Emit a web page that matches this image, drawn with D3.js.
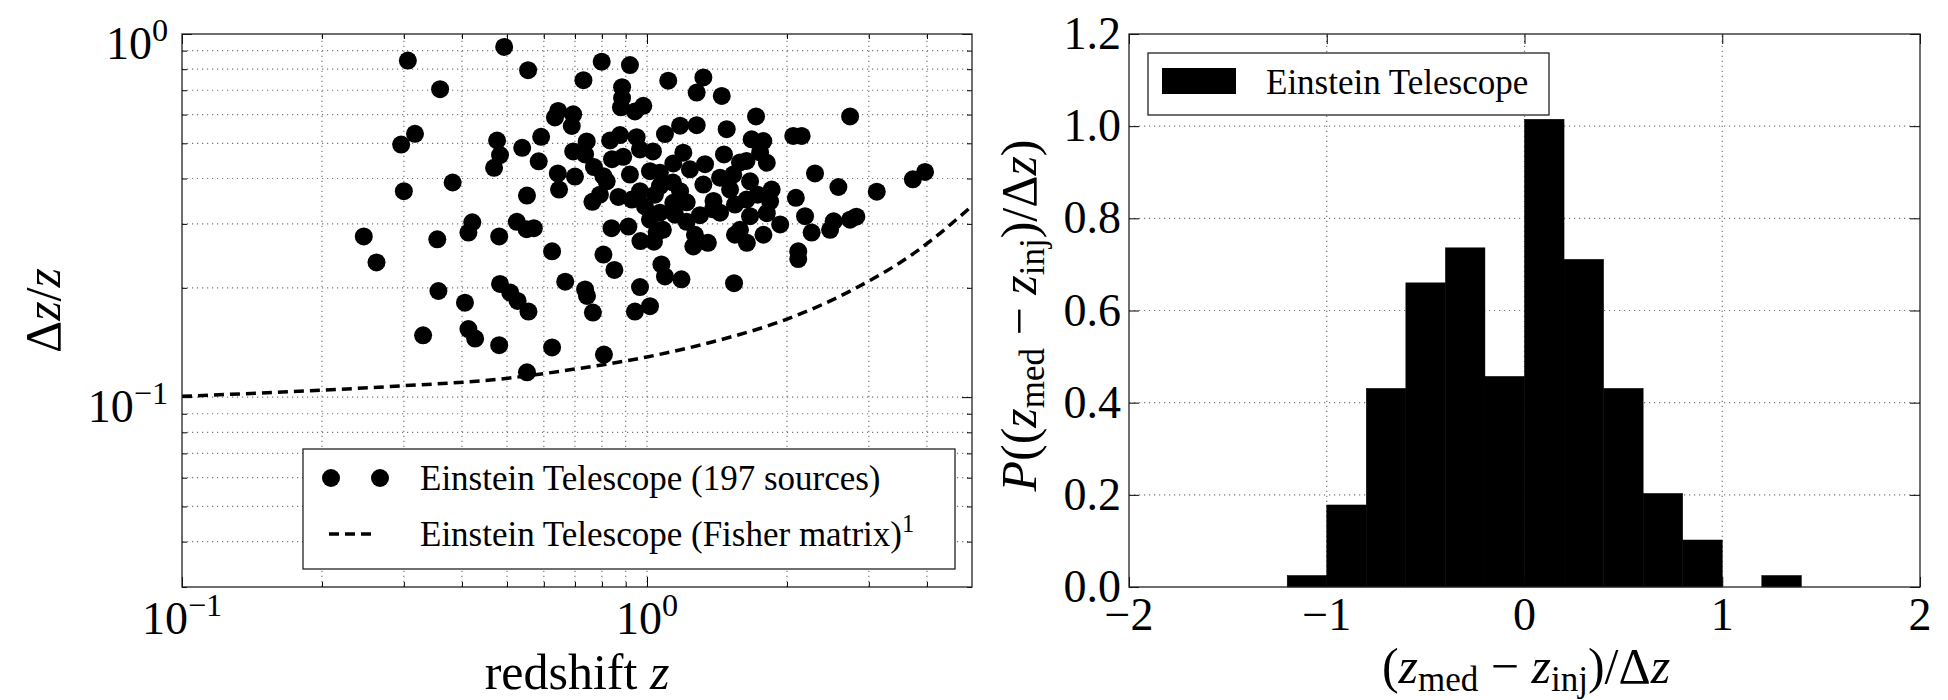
<!DOCTYPE html>
<html>
<head>
<meta charset="utf-8">
<script src="https://cdn.jsdelivr.net/npm/d3@7"></script>
<style>
  body { margin: 0; background: #fff; }
  svg text { font-family: "Liberation Serif", "DejaVu Serif", serif; fill: #000; }
</style>
</head>
<body>
<svg id="chart" width="1948" height="700" font-family="Liberation Serif, DejaVu Serif, serif"></svg>
<script>
// ---- data ----
// left panel: fractional redshift error per source
const redshift = [
  0.493,0.306,0.555,0.359,0.317,0.296,0.476,0.483,0.469,0.539,
  0.592,0.585,0.382,0.300,0.552,0.246,0.262,0.354,0.421,0.413,
  0.481,0.525,0.551,0.571,0.356,0.406,0.483,0.508,0.527,0.556,
  0.330,0.413,0.427,0.481,0.552,0.625,0.808,0.625,0.667,0.736,
  0.743,0.765,0.806,0.851,0.839,0.912,0.966,0.942,1.015,0.968,
  1.035,1.082,1.074,1.093,1.186,1.258,1.352,1.539,1.546,2.115,
  2.115,2.187,2.26,2.476,2.52,2.734,2.82,1.78,1.64,1.81,
  1.666,1.585,1.066,1.217,1.300,1.436,1.387,0.799,0.919,0.730,
  1.111,1.322,1.279,1.448,0.884,0.884,0.879,0.982,0.942,0.644,
  0.634,0.694,0.689,0.742,0.694,0.833,0.875,0.950,1.093,1.178,
  1.279,1.484,1.030,1.197,1.139,1.464,0.643,0.700,0.769,0.889,
  0.819,0.919,1.015,0.966,0.647,0.763,0.868,1.066,1.178,1.322,
  1.436,1.533,1.39,1.139,1.716,2.734,1.679,1.779,2.063,2.151,
  1.637,1.81,1.666,1.854,2.298,2.58,2.09,3.12,3.73,3.963,
  0.806,0.990,1.137,1.637,1.585,1.217,1.015,1.049,1.84,1.751,1.066,
  0.792,0.928,1.040,1.237,1.333,1.509,1.268,1.149,1.934,1.546,1.73,0.841,0.966,0.736
];
const dzOverZ = [
  0.921,0.845,0.795,0.705,0.531,0.496,0.509,0.464,0.428,0.486,
  0.521,0.446,0.390,0.369,0.359,0.277,0.235,0.272,0.303,0.284,
  0.277,0.304,0.290,0.292,0.196,0.182,0.205,0.194,0.184,0.172,
  0.148,0.154,0.145,0.139,0.117,0.137,0.131,0.252,0.208,0.198,
  0.190,0.171,0.247,0.224,0.292,0.295,0.201,0.172,0.178,0.269,
  0.268,0.289,0.232,0.215,0.211,0.260,0.266,0.206,0.280,0.252,
  0.240,0.315,0.284,0.289,0.305,0.308,0.314,0.280,0.266,0.321,
  0.315,0.289,0.322,0.304,0.317,0.322,0.329,0.839,0.821,0.746,
  0.744,0.759,0.690,0.675,0.714,0.666,0.628,0.634,0.612,0.614,
  0.589,0.601,0.558,0.506,0.475,0.509,0.527,0.520,0.530,0.559,
  0.561,0.547,0.475,0.471,0.440,0.466,0.413,0.405,0.430,0.459,
  0.393,0.410,0.419,0.369,0.373,0.345,0.356,0.381,0.369,0.385,
  0.402,0.410,0.347,0.343,0.593,0.593,0.513,0.507,0.524,0.524,
  0.447,0.442,0.393,0.373,0.413,0.379,0.354,0.368,0.398,0.417,
  0.406,0.335,0.390,0.350,0.443,0.344,0.308,0.284,0.346,0.472,0.415,
  0.361,0.350,0.361,0.424,0.438,0.373,0.280,0.318,0.299,0.339,0.361,0.452,0.481,0.466
];
// Fisher matrix curve
const fisherZ  = [0.1, 0.2, 0.3, 0.48, 0.7, 1.0, 1.4, 2.0, 2.8, 3.8, 5.0];
const fisherDz = [0.1005, 0.1045, 0.1075, 0.112, 0.1195, 0.129, 0.1425, 0.164, 0.199, 0.252, 0.336];

// right panel: normalised histogram
const binEdges = [-1.2, -1.0, -0.8, -0.6, -0.4, -0.2, 0.0, 0.2, 0.4, 0.6, 0.8, 1.0, 1.2, 1.4];
const density  = [0.025, 0.178, 0.431, 0.66, 0.736, 0.457, 1.015, 0.711, 0.431, 0.203, 0.102, 0, 0.025];

// ticks
const logMajorX = [0.1, 1];
const logMinorX = [0.2,0.3,0.4,0.5,0.6,0.7,0.8,0.9,2,3,4];
const logMajorY = [0.1, 1];
const logMinorY = [0.03,0.04,0.05,0.06,0.07,0.08,0.09,0.2,0.3,0.4,0.5,0.6,0.7,0.8,0.9];
const histXTicks = [-2, -1, 0, 1, 2];
const histYTicks = [0, 0.2, 0.4, 0.6, 0.8, 1.0, 1.2];

/////////////////////////////////////////////////////
const svg = d3.select("#chart");
const plotTop = 34, plotBot = 587;
const tickFs = 46, labelFs = 50, legendFs = 35;

// write text with italic / sub / superscript pieces
function rich(sel, parts, size) {
  let shift = 0;
  parts.forEach(p => {
    const target = p.sub ? size * 0.16 : p.sup ? -size * 0.4 : 0;
    const ts = sel.append("tspan").text(p.t).attr("dy", target - shift);
    if (p.sub || p.sup) ts.attr("font-size", size * 0.7);
    if (p.it) ts.attr("font-style", "italic");
    shift = target;
  });
  return sel;
}

// inward ticks on all four sides + frame
function frameTicks(g, x, y, xMajor, xMinor, yMajor, yMinor, x0, x1, y0, y1) {
  const mk = (axis, vals, size, tr) => g.append("g").attr("transform", tr)
    .call(axis.tickValues(vals).tickSize(size).tickFormat(""))
    .call(s => s.select(".domain").remove())
    .call(s => s.selectAll("line").attr("stroke", "#000").attr("stroke-width", 1));
  mk(d3.axisBottom(x), xMajor, -10, `translate(0,${y0})`);
  mk(d3.axisBottom(x), xMinor, -5, `translate(0,${y0})`);
  mk(d3.axisTop(x), xMajor, -10, `translate(0,${y1})`);
  mk(d3.axisTop(x), xMinor, -5, `translate(0,${y1})`);
  mk(d3.axisLeft(y), yMajor, -10, `translate(${x0},0)`);
  mk(d3.axisLeft(y), yMinor, -5, `translate(${x0},0)`);
  mk(d3.axisRight(y), yMajor, -10, `translate(${x1},0)`);
  mk(d3.axisRight(y), yMinor, -5, `translate(${x1},0)`);
  g.append("rect").attr("x", x0).attr("y", y1).attr("width", x1 - x0).attr("height", y0 - y1)
    .attr("fill", "none").attr("stroke", "#222").attr("stroke-width", 1.3);
}

// ================= left panel =================
const xL = d3.scaleLog().domain([0.1, 5]).range([182, 972]);
const yL = d3.scaleLog().domain([0.03, 1]).range([plotBot, plotTop]);
const leftG = svg.append("g");

const gridL = leftG.append("g");
gridL.selectAll("line.v").data(logMinorX.concat([1])).join("line").attr("class", "v")
  .attr("x1", d => xL(d)).attr("x2", d => xL(d)).attr("y1", plotBot).attr("y2", plotTop);
gridL.selectAll("line.h").data(logMinorY.filter(d => d > 0.03).concat([0.1])).join("line").attr("class", "h")
  .attr("x1", xL.range()[0]).attr("x2", xL.range()[1]).attr("y1", d => yL(d)).attr("y2", d => yL(d));
gridL.selectAll("line").attr("stroke", "#777").attr("stroke-width", 1.2).attr("stroke-dasharray", "1.2,3.8");

svg.append("clipPath").attr("id", "clipL").append("rect")
  .attr("x", 182).attr("y", plotTop).attr("width", 790).attr("height", plotBot - plotTop);

const points = redshift.map((z, i) => ({z: z, dz: dzOverZ[i]}));
leftG.append("g").attr("clip-path", "url(#clipL)")
  .selectAll("circle").data(points).join("circle")
  .attr("cx", d => xL(d.z)).attr("cy", d => yL(d.dz)).attr("r", 9).attr("fill", "#000");

const fisher = fisherZ.map((z, i) => [z, fisherDz[i]]);
leftG.append("path").attr("clip-path", "url(#clipL)")
  .datum(fisher)
  .attr("d", d3.line().x(d => xL(d[0])).y(d => yL(d[1])).curve(d3.curveMonotoneX))
  .attr("fill", "none").attr("stroke", "#000").attr("stroke-width", 3.5).attr("stroke-dasharray", "10,6");

frameTicks(leftG.append("g"), xL, yL, logMajorX, logMinorX, logMajorY, logMinorY, 182, 972, plotBot, plotTop);

// tick labels (powers of ten)
const expo = d => d === 1 ? "0" : "\u22121";
logMajorX.forEach(v => rich(leftG.append("text").attr("x", xL(v)).attr("y", 634)
  .attr("text-anchor", "middle").attr("font-size", tickFs), [{t: "10"}, {t: expo(v), sup: true}], tickFs));
logMajorY.forEach(v => rich(leftG.append("text").attr("x", 168).attr("y", yL(v) + 25)
  .attr("text-anchor", "end").attr("font-size", tickFs), [{t: "10"}, {t: expo(v), sup: true}], tickFs));

rich(leftG.append("text").attr("x", 577).attr("y", 689).attr("text-anchor", "middle").attr("font-size", labelFs),
  [{t: "redshift "}, {t: "z", it: true}], labelFs);
rich(leftG.append("text").attr("transform", `translate(60,${(plotTop + plotBot) / 2}) rotate(-90)`)
  .attr("text-anchor", "middle").attr("font-size", labelFs),
  [{t: "\u0394"}, {t: "z", it: true}, {t: "/"}, {t: "z", it: true}], labelFs);

// legend
const legL = leftG.append("g");
legL.append("rect").attr("x", 303).attr("y", 449).attr("width", 652).attr("height", 120)
  .attr("fill", "#fff").attr("stroke", "#222").attr("stroke-width", 1.3);
legL.selectAll("circle").data([331, 380]).join("circle")
  .attr("cx", d => d).attr("cy", 478).attr("r", 9).attr("fill", "#000");
legL.append("line").attr("x1", 329).attr("x2", 377).attr("y1", 534).attr("y2", 534)
  .attr("stroke", "#000").attr("stroke-width", 3.5).attr("stroke-dasharray", "10,6");
legL.append("text").attr("x", 420).attr("y", 490).attr("font-size", legendFs)
  .text("Einstein Telescope (197 sources)");
rich(legL.append("text").attr("x", 420).attr("y", 546).attr("font-size", legendFs),
  [{t: "Einstein Telescope (Fisher matrix)"}, {t: "1", sup: true}], legendFs);

// ================= right panel =================
const xR = d3.scaleLinear().domain([-2, 2]).range([1129, 1920]);
const yR = d3.scaleLinear().domain([0, 1.2]).range([plotBot, plotTop]);
const rightG = svg.append("g");

const gridR = rightG.append("g");
gridR.selectAll("line.v").data([-1, 0, 1]).join("line").attr("class", "v")
  .attr("x1", d => xR(d)).attr("x2", d => xR(d)).attr("y1", plotBot).attr("y2", plotTop);
gridR.selectAll("line.h").data([0.2, 0.4, 0.6, 0.8, 1.0]).join("line").attr("class", "h")
  .attr("x1", 1129).attr("x2", 1920).attr("y1", d => yR(d)).attr("y2", d => yR(d));
gridR.selectAll("line").attr("stroke", "#777").attr("stroke-width", 1.2).attr("stroke-dasharray", "1.2,3.8");

const bins = density.map((v, i) => ({x0: binEdges[i], x1: binEdges[i + 1], v: v})).filter(d => d.v > 0);
rightG.append("g").selectAll("rect").data(bins).join("rect")
  .attr("x", d => xR(d.x0)).attr("width", d => xR(d.x1) - xR(d.x0))
  .attr("y", d => yR(d.v)).attr("height", d => yR(0) - yR(d.v))
  .attr("fill", "#000").attr("stroke", "#000").attr("stroke-width", 0.5);

frameTicks(rightG.append("g"), xR, yR, histXTicks, [], histYTicks, [], 1129, 1920, plotBot, plotTop);

const fmtX = d3.format("d");
histXTicks.forEach(v => rightG.append("text").attr("x", xR(v)).attr("y", 630)
  .attr("text-anchor", "middle").attr("font-size", tickFs)
  .text(v < 0 ? "\u2212" + fmtX(-v) : fmtX(v)));
histYTicks.forEach(v => rightG.append("text").attr("x", 1121).attr("y", yR(v) + 15)
  .attr("text-anchor", "end").attr("font-size", tickFs).text(d3.format(".1f")(v)));

rich(rightG.append("text").attr("x", 1526).attr("y", 683).attr("text-anchor", "middle").attr("font-size", labelFs),
  [{t: "("}, {t: "z", it: true}, {t: "med", sub: true}, {t: " \u2212 "}, {t: "z", it: true}, {t: "inj", sub: true},
   {t: ")/\u0394"}, {t: "z", it: true}], labelFs);
rich(rightG.append("text").attr("transform", `translate(1036,${(plotTop + plotBot) / 2 + 5}) rotate(-90)`)
  .attr("text-anchor", "middle").attr("font-size", labelFs),
  [{t: "P", it: true}, {t: "(("}, {t: "z", it: true}, {t: "med", sub: true}, {t: " \u2212 "}, {t: "z", it: true},
   {t: "inj", sub: true}, {t: ")/\u0394"}, {t: "z", it: true}, {t: ")"}], labelFs);

// legend
const legR = rightG.append("g");
legR.append("rect").attr("x", 1148).attr("y", 53).attr("width", 401).attr("height", 62)
  .attr("fill", "#fff").attr("stroke", "#222").attr("stroke-width", 1.3);
legR.append("rect").attr("x", 1162).attr("y", 68).attr("width", 74).attr("height", 26).attr("fill", "#000");
legR.append("text").attr("x", 1266).attr("y", 94).attr("font-size", legendFs).text("Einstein Telescope");
</script>
</body>
</html>
